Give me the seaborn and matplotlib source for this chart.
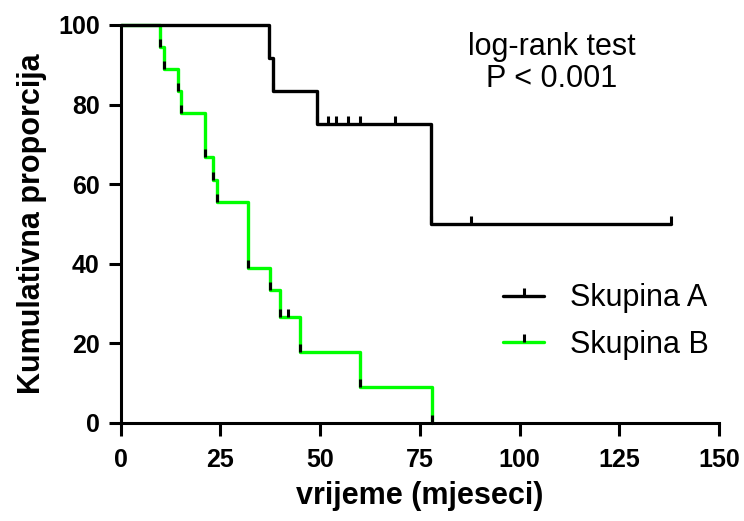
import numpy as np
import pandas as pd
import seaborn as sns
import matplotlib.pyplot as plt

# Kaplan-Meier steps (time in months, survival in %)
time_a = [0, 37.25, 38.2, 49.2, 52.1, 54.0, 57.1, 60.0, 68.9, 77.9, 87.75, 138.0]
surv_a = [100, 91.7, 83.3, 75.0, 75.0, 75.0, 75.0, 75.0, 75.0, 50.0, 50.0, 50.0]

time_b = [0, 10.0, 11.0, 14.5, 15.25, 21.25, 23.25, 24.25, 32.0, 37.5, 40.0, 42.0, 45.0, 60.0, 78.0]
surv_b = [100, 94.4, 88.9, 83.3, 77.8, 66.7, 61.1, 55.6, 38.9, 33.3, 26.7, 26.7, 17.8, 8.9, 0]

groups = ["Skupina A", "Skupina B"]
colors = ["black", "#00ff00"]
x_ticks = [0, 25, 50, 75, 100, 125, 150]
y_ticks = [0, 20, 40, 60, 80, 100]

sns.set_style("ticks")
plt.rcParams['font.family'] = ['Liberation Sans', 'DejaVu Sans']
for k in ["text.color", "axes.labelcolor", "xtick.color", "ytick.color", "axes.edgecolor"]:
    plt.rcParams[k] = "black"

df_a = pd.DataFrame({"t": time_a, "s": surv_a})
df_b = pd.DataFrame({"t": time_b, "s": surv_b})

fig = plt.figure(figsize=(7.44, 5.21), dpi=100)
ax = fig.add_axes([120.5 / 744, 1 - 422.7 / 521, 598.5 / 744, 397.7 / 521])

tick = [(0, 0), (0, 1)]  # small upward tick, Prism style

sns.lineplot(data=df_b, x="t", y="s", ax=ax, color=colors[1], lw=2.4, drawstyle="steps-post",
             marker=tick, markersize=11, markeredgewidth=2.2, markeredgecolor="black",
             markevery=slice(1, None), errorbar=None, sort=False, label=groups[1],
             clip_on=False, zorder=2)
sns.lineplot(data=df_a, x="t", y="s", ax=ax, color=colors[0], lw=2.4, drawstyle="steps-post",
             marker=tick, markersize=11, markeredgewidth=2.2, markeredgecolor="black",
             markevery=slice(1, None), errorbar=None, sort=False, label=groups[0],
             clip_on=False, zorder=3)

ax.set_xlim(0, 150)
ax.set_ylim(0, 100)
ax.set_xticks(x_ticks)
ax.set_yticks(y_ticks)
sns.despine(ax=ax)
for sp in ["left", "bottom"]:
    ax.spines[sp].set_linewidth(2.2)
ax.tick_params(axis="both", direction="out", length=9, width=2.2, labelsize=18)
ax.tick_params(axis="x", pad=9)
ax.tick_params(axis="y", pad=6)
for lab in ax.get_xticklabels() + ax.get_yticklabels():
    lab.set_fontweight("bold")

ax.set_xlabel("vrijeme (mjeseci)", fontsize=22, fontweight="bold", labelpad=7)
ax.set_ylabel("Kumulativna proporcija", fontsize=22, fontweight="bold", labelpad=8)

ax.text(108, 94.5, "log-rank test", fontsize=22, ha="center", va="center")
ax.text(108, 86.3, "P < 0.001", fontsize=22, ha="center", va="center")

h, l = ax.get_legend_handles_labels()
order = [l.index(g) for g in groups]
ax.legend([h[i] for i in order], [l[i] for i in order], loc="center left",
          bbox_to_anchor=(0.639, 0.254), frameon=False, fontsize=22,
          handlelength=1.35, handletextpad=0.85, labelspacing=0.55,
          borderpad=0, borderaxespad=0)

fig.savefig("out.png", dpi=100)
